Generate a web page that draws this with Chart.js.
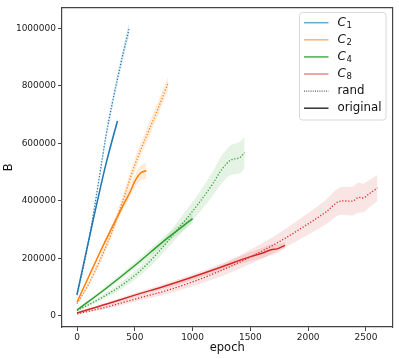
<!DOCTYPE html>
<html><head><meta charset="utf-8">
<script src="https://cdn.jsdelivr.net/npm/chart.js@4"></script>
<style>html,body{margin:0;padding:0;background:#fff;}#wrap{width:399px;height:359px;}</style>
</head><body><div id="wrap"><canvas id="c" width="399" height="359"></canvas></div>
<script>
// ---- data ----
const c1OrigX = [0,50,100,150,200,250,300,350];
const c1OrigY = [75000,168000,260000,352000,442000,528000,605000,678000];
const c1OrigSpread = [5000,6000,7000,8000,9000,10000,12000,14000];
const c1RandX = [0,50,100,150,200,250,300,350,400,450];
const c1RandY = [72000,160000,260000,375000,500000,625000,730000,825000,915000,998000];
const c1RandSpread = [4000,6000,8000,11000,13000,15000,17000,19000,21000,23000];

const c2OrigX = [0,100,200,300,400,460,500,550,600];
const c2OrigY = [48000,135000,222000,305000,385000,432000,468000,497000,505000];
const c2OrigSpread = [4000,6000,8000,10000,14000,18000,22000,26000,28000];
const c2RandX = [0,100,200,300,400,500,600,700,790];
const c2RandY = [42000,110000,195000,290000,405000,525000,625000,720000,812000];
const c2RandSpread = [4000,8000,12000,16000,20000,22000,24000,24000,22000];

const c4OrigX = [0,250,500,750,1000];
const c4OrigY = [20000,95000,175000,260000,338000];
const c4OrigSpread = [4000,8000,11000,14000,17000];
const c4RandX = [0,200,400,550,700,900,1050,1175,1250,1330,1410,1450];
const c4RandY = [18000,60000,110000,158000,220000,315000,390000,460000,508000,542000,551000,568000];
const c4RandSpread = [3000,8000,13000,17000,21000,28000,35000,42000,48000,52000,55000,55000];

const c8OrigX = [0,250,500,750,1000,1250,1500,1600,1680,1730,1800];
const c8OrigY = [10000,40000,72000,102000,135000,170000,206000,218000,230000,233000,245000];
const c8OrigSpread = [3000,5000,7000,9000,10000,12000,15000,18000,18000,15000,12000];
const c8RandX = [0,250,500,750,1000,1250,1500,1750,2000,2150,2290,2380,2440,2470,2530,2600];
const c8RandY = [7000,30000,58000,85000,118000,158000,205000,258000,320000,360000,400000,399000,412000,410000,425000,445000];
const c8RandSpread = [2000,6000,9000,12000,15000,20000,25000,30000,38000,42000,48000,50000,52000,50000,48000,45000];

const xTicks = [0,500,1000,1500,2000,2500];
const yTicks = [0,200000,400000,600000,800000,1000000];
const legendLabels = [["C","1"],["C","2"],["C","4"],["C","8"],["rand",""],["original",""]];

// ---- styling ----
const colors = ['#1f77b4','#ff7f0e','#2ca02c','#d62728'];
const bandFill = ['rgba(31,119,180,0.15)','rgba(255,127,14,0.15)','rgba(44,160,44,0.12)','rgba(214,39,40,0.12)'];
const legendCol = ['rgba(31,119,180,0.65)','rgba(255,127,14,0.6)','rgba(44,160,44,0.85)','rgba(214,39,40,0.55)','#333','#333'];

function pts(xs, ys){ return xs.map((x,i)=>({x:x,y:ys[i]})); }
function offs(xs, ys, sp, sgn){ return xs.map((x,i)=>({x:x,y:ys[i]+sgn*sp[i]})); }

const series = [
  [c1OrigX,c1OrigY,c1OrigSpread,0,false],[c1RandX,c1RandY,c1RandSpread,0,true],
  [c2OrigX,c2OrigY,c2OrigSpread,1,false],[c2RandX,c2RandY,c2RandSpread,1,true],
  [c4OrigX,c4OrigY,c4OrigSpread,2,false],[c4RandX,c4RandY,c4RandSpread,2,true],
  [c8OrigX,c8OrigY,c8OrigSpread,3,false],[c8RandX,c8RandY,c8RandSpread,3,true]
];
const lines = [], bands = [];
series.forEach(([xs,ys,sp,ci,dotted])=>{
  lines.push({data:pts(xs,ys), borderColor:colors[ci], borderWidth:dotted?1.3:1.5,
    borderDash:dotted?[1.2,1.8]:[], pointRadius:0, fill:false, order:0, cubicInterpolationMode:'monotone'});
});
const datasets = lines.slice();
series.forEach(([xs,ys,sp,ci])=>{
  datasets.push({data:offs(xs,ys,sp,1), borderWidth:0, pointRadius:0, backgroundColor:bandFill[ci],
    fill:'+1', order:1, cubicInterpolationMode:'monotone'});
  datasets.push({data:offs(xs,ys,sp,-1), borderWidth:0, pointRadius:0, fill:false, order:1, cubicInterpolationMode:'monotone'});
});

const legendPlugin = {
  id:'customLegend',
  afterDraw(chart){
    const ctx = chart.ctx;
    ctx.save();
    const bx=299.5, by=12.5, bw=86.5, bh=107.5, r=3;
    ctx.beginPath();
    ctx.moveTo(bx+r,by); ctx.lineTo(bx+bw-r,by); ctx.arcTo(bx+bw,by,bx+bw,by+r,r);
    ctx.lineTo(bx+bw,by+bh-r); ctx.arcTo(bx+bw,by+bh,bx+bw-r,by+bh,r);
    ctx.lineTo(bx+r,by+bh); ctx.arcTo(bx,by+bh,bx,by+bh-r,r);
    ctx.lineTo(bx,by+r); ctx.arcTo(bx,by,bx+r,by,r); ctx.closePath();
    ctx.fillStyle='rgba(255,255,255,0.85)'; ctx.fill();
    ctx.strokeStyle='#d8d8d8'; ctx.lineWidth=1; ctx.stroke();
    legendLabels.forEach((lab,i)=>{
      const y = 22.7 + i*17.1;
      ctx.beginPath(); ctx.moveTo(304,y); ctx.lineTo(328.5,y);
      ctx.strokeStyle=legendCol[i]; ctx.lineWidth = i===4?1:1.5;
      ctx.setLineDash(i===4?[1,1.2]:[]); ctx.stroke(); ctx.setLineDash([]);
      ctx.fillStyle='#111'; ctx.textBaseline='middle'; ctx.textAlign='left';
      if(lab[1]){
        ctx.font='italic 12px "DejaVu Sans"';
        ctx.fillText(lab[0],337.5,y);
        const w = ctx.measureText(lab[0]).width;
        ctx.font='8.5px "DejaVu Sans"';
        ctx.fillText(lab[1],337.5+w+0.5,y+3);
      } else {
        ctx.font='11.8px "DejaVu Sans"';
        ctx.fillText(lab[0],337.5,y);
      }
    });
    ctx.restore();
  }
};

new Chart(document.getElementById('c'),{
  type:'line',
  data:{datasets:datasets},
  options:{
    responsive:false, animation:false, devicePixelRatio:1,
    layout:{padding:{top:6,right:6.5,left:0,bottom:0}},
    plugins:{legend:{display:false}, tooltip:{enabled:false}},
    elements:{line:{borderCapStyle:'butt'}},
    scales:{
      x:{type:'linear', min:-130, max:2730,
        afterFit(s){ s.height=32; },
        afterBuildTicks(s){ s.ticks = xTicks.map(v=>({value:v})); },
        ticks:{font:{family:'DejaVu Sans',size:9}, color:'#222', padding:1, maxRotation:0, callback:v=>String(v)},
        grid:{drawOnChartArea:false, drawTicks:true, tickLength:4, tickColor:'#444', tickWidth:1},
        border:{display:true, color:'#444', width:1.2},
        title:{display:true, text:'epoch', font:{family:'DejaVu Sans',size:11.5}, color:'#111', padding:{top:0,bottom:4}}
      },
      y:{type:'linear', min:-39000, max:1073600,
        afterFit(s){ s.width=62; },
        afterBuildTicks(s){ s.ticks = yTicks.map(v=>({value:v})); },
        ticks:{font:{family:'DejaVu Sans',size:9}, color:'#222', padding:2, callback:v=>String(v)},
        grid:{drawOnChartArea:false, drawTicks:true, tickLength:4, tickColor:'#444', tickWidth:1},
        border:{display:true, color:'#444', width:1.2},
        title:{display:true, text:'B', font:{family:'DejaVu Sans',size:11.5}, color:'#111', padding:{top:2.5,bottom:0}}
      },
      x2:{type:'linear', position:'top', display:true, min:-130, max:2730,
        afterFit(s){ s.height=0; }, ticks:{display:false},
        grid:{drawOnChartArea:false, drawTicks:false}, border:{display:true,color:'#444',width:1.2}},
      y2:{type:'linear', position:'right', display:true, min:-39000, max:1073600,
        afterFit(s){ s.width=0; }, ticks:{display:false},
        grid:{drawOnChartArea:false, drawTicks:false}, border:{display:true,color:'#444',width:1.2}}
    }
  },
  plugins:[legendPlugin]
});
</script></body></html>
